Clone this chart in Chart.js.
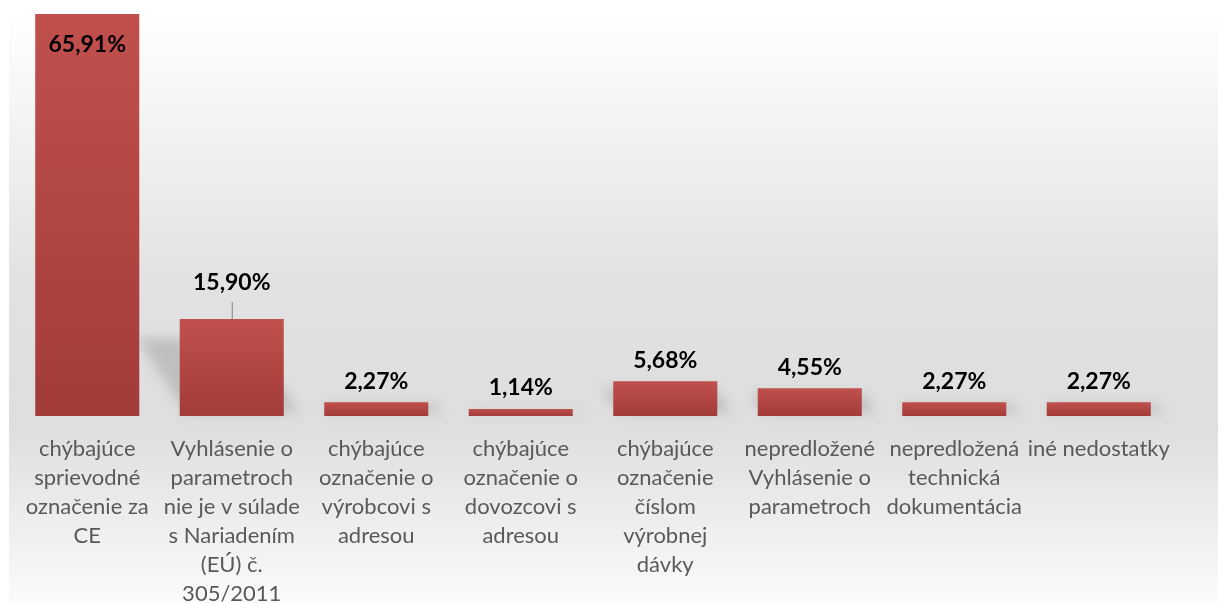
<!DOCTYPE html>
<html>
<head>
<meta charset="utf-8">
<script src="https://cdn.jsdelivr.net/npm/chart.js@4.4.1/dist/chart.umd.min.js"></script>
<style>
  html, body { margin: 0; padding: 0; background: #ffffff; }
  #wrap { width: 1218px; height: 603px; overflow: hidden; }
</style>
</head>
<body>
<div id="wrap"><canvas id="defectChart" width="1218" height="603"></canvas></div>
<script>
  // categories (multi-line, as wrapped in the original)
  const categories = [
    ["chýbajúce", "sprievodné", "označenie za", "CE"],
    ["Vyhlásenie o", "parametroch", "nie je v súlade", "s Nariadením", "(EÚ) č.", "305/2011"],
    ["chýbajúce", "označenie o", "výrobcovi s", "adresou"],
    ["chýbajúce", "označenie o", "dovozcovi s", "adresou"],
    ["chýbajúce", "označenie", "číslom", "výrobnej", "dávky"],
    ["nepredložené", "Vyhlásenie o", "parametroch"],
    ["nepredložená", "technická", "dokumentácia"],
    ["iné nedostatky"]
  ];

  const shares = [65.91, 15.90, 2.27, 1.14, 5.68, 4.55, 2.27, 2.27];

  const valueLabels = ["65,91%", "15,90%", "2,27%", "1,14%", "5,68%", "4,55%", "2,27%", "2,27%"];

  // ---------------------------
  // Background panel
  // ---------------------------

  const panelBackground = {
    id: "panelBackground",
    beforeDraw(chart) {
      const ctx = chart.ctx;
      const g = ctx.createLinearGradient(0, 14, 0, 603);
      g.addColorStop(0, "#ffffff");
      g.addColorStop(0.45, "#e2e2e2");
      g.addColorStop(0.70, "#dedede");
      g.addColorStop(1, "#fbfbfb");
      ctx.save();
      ctx.fillStyle = g;
      ctx.fillRect(9, 14, chart.width - 9, chart.height - 14);
      ctx.restore();
    }
  };

  // ---------------------------
  // Perspective shadow behind bars
  // ---------------------------

  const barShadow = {
    id: "barShadow",
    beforeDatasetsDraw(chart) {
      const ctx = chart.ctx;
      const meta = chart.getDatasetMeta(0);
      ctx.save();
      ctx.filter = "blur(6px)";
      ctx.fillStyle = "rgba(120,120,120,0.32)";
      meta.data.forEach((bar, i) => {
        if (i === 0) return;
        const { x, y, base, width } = bar.getProps(["x", "y", "base", "width"], true);
        const h = base - y;
        const x0 = x - width / 2, x1 = x + width / 2;
        const skew = h * 0.5, lift = h * 0.8;
        ctx.beginPath();
        ctx.moveTo(x0 + 6, base - 4);
        ctx.lineTo(x1 + 14, base - 4);
        ctx.lineTo(x1 + 14 - skew, base - lift);
        ctx.lineTo(x0 + 6 - skew, base - lift);
        ctx.closePath();
        ctx.fill();
      });
      ctx.restore();
    }
  };

  // ---------------------------
  // Value labels
  // ---------------------------

  const labelStyle = { insideIndex: 0, leaderIndex: 1, leaderLift: 36 };

  const valueLabelPlugin = {
    id: "valueLabelPlugin",
    afterDatasetsDraw(chart) {
      const ctx = chart.ctx;
      const meta = chart.getDatasetMeta(0);
      ctx.save();
      ctx.font = "bold 23px Lato";
      ctx.fillStyle = "#000000";
      ctx.textAlign = "center";
      ctx.textBaseline = "middle";
      meta.data.forEach((bar, i) => {
        const { x, y } = bar.getProps(["x", "y"], true);
        let ty = y - 21;
        if (i === labelStyle.insideIndex) {
          ty = y + 31;
        } else if (i === labelStyle.leaderIndex) {
          ty = y - labelStyle.leaderLift;
          ctx.strokeStyle = "#808080";
          ctx.lineWidth = 1;
          ctx.beginPath();
          ctx.moveTo(x + 0.5, y);
          ctx.lineTo(x + 0.5, ty + 19);
          ctx.stroke();
        }
        ctx.fillText(valueLabels[i], x, ty);
      });
      ctx.restore();
    }
  };

  // ---------------------------
  // Chart
  // ---------------------------

  function barGradient(context) {
    const chart = context.chart;
    const yScale = chart.scales.y;
    if (!chart.chartArea || !yScale || context.raw == null) return "#bb4b48";
    const top = yScale.getPixelForValue(context.raw);
    const base = yScale.getPixelForValue(0);
    if (!isFinite(top) || base - top < 1) return "#bb4b48";
    const g = chart.ctx.createLinearGradient(0, top, 0, base);
    g.addColorStop(0, "#c1504d");
    g.addColorStop(1, "#a23c39");
    return g;
  }

  const ctx = document.getElementById("defectChart").getContext("2d");

  new Chart(ctx, {
    type: "bar",
    data: {
      labels: categories,
      datasets: [
        {
          data: shares,
          backgroundColor: barGradient,
          borderWidth: 0,
          barPercentage: 0.72,
          categoryPercentage: 1
        }
      ]
    },
    options: {
      responsive: false,
      animation: false,
      layout: {
        padding: { left: 15, right: 47, top: 14, bottom: 0 }
      },
      plugins: {
        legend: { display: false },
        tooltip: { enabled: false }
      },
      scales: {
        x: {
          grid: { display: false },
          border: { display: false },
          ticks: {
            autoSkip: false,
            maxRotation: 0,
            minRotation: 0,
            padding: 10,
            color: "#595959",
            font: { family: "Lato", size: 22, lineHeight: 1.32 }
          },
          afterFit(scale) {
            scale.height = 187;
          }
        },
        y: {
          display: false,
          min: 0,
          max: 65.91
        }
      }
    },
    plugins: [panelBackground, barShadow, valueLabelPlugin]
  });
</script>
</body>
</html>
